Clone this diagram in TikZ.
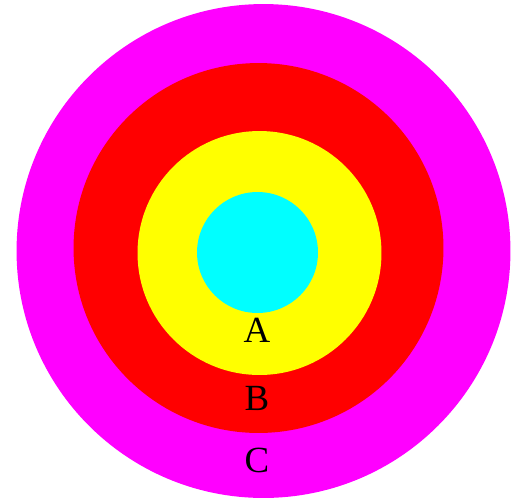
\documentclass[tikz,border=0pt]{standalone}
\usepackage{fontspec}
\setmainfont{Liberation Serif}
\definecolor{ringC}{RGB}{255,0,255}
\definecolor{ringB}{RGB}{255,0,0}
\definecolor{ringA}{RGB}{255,255,0}
\definecolor{ringO}{RGB}{0,255,255}
\begin{document}
\begin{tikzpicture}[x=0.02cm, y=-0.02cm]
    % Fix the page size
    \useasboundingbox (0,0) rectangle (520,501);
    % Draw the rings, outermost first
\node at (263.5,251) [circle, fill=ringC, inner sep=0pt, minimum size=9.88cm] (R3) {};
\node at (258.5,248) [circle, fill=ringB, inner sep=0pt, minimum size=7.4cm] (R2) {};
\node at (259.5,253) [circle, fill=ringA, inner sep=0pt, minimum size=4.88cm] (R1) {};
\node at (257.5,252.5) [circle, fill=ringO, inner sep=0pt, minimum size=2.42cm] (R0) {};

% labels of the rings
\node at (257,330) [font=\fontsize{21}{25}\selectfont] (A) {A};
\node at (257,398) [font=\fontsize{21}{25}\selectfont] (B) {B};
\node at (257,460) [font=\fontsize{21}{25}\selectfont] (C) {C};

\end{tikzpicture}
\end{document}
